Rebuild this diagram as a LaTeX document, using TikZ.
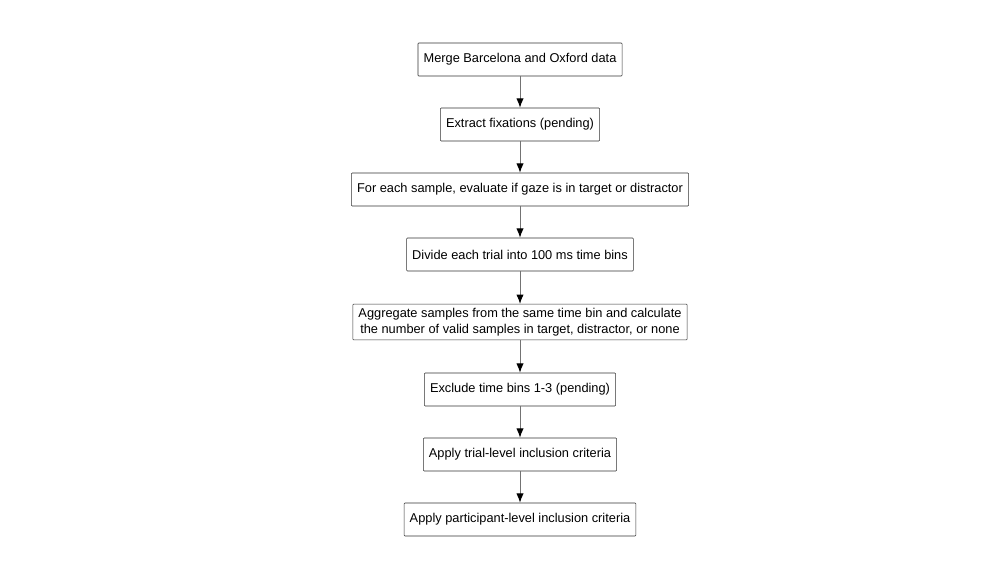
\documentclass[tikz,border=0pt]{standalone}
\usepackage{fontspec}
\setmainfont{Liberation Sans}
\usetikzlibrary{arrows.meta}
\tikzset{step-box/.style={draw=black!80, fill=white, rounded corners=0.6pt, inner xsep=4.2pt, inner ysep=3pt, minimum height=24.75pt, align=center, font=\fontsize{9.6}{11.8}\selectfont}}
\tikzset{arrow/.style={draw=black!55, line width=0.75pt, -{Latex[black, length=7pt, width=5.5pt]}}}

\begin{document}
\begin{tikzpicture}[x=0.75pt, y=-0.75pt]
      \useasboundingbox (0, 0) rectangle (1000, 580);

      \node[step-box] (merge) at (520, 59.5) {Merge Barcelona and Oxford data};
      \node[step-box] (fix) at (520, 124.5) {Extract fixations (pending)};
      \node[step-box] (gaze) at (520, 189.5) {For each sample, evaluate if gaze is in target or distractor};
      \node[step-box] (bins) at (520, 254.5) {Divide each trial into 100 ms time bins};
      \node[step-box] (agg) at (520, 322) {Aggregate samples from the same time bin and calculate\\the number of valid samples in target, distractor, or none};
      \node[step-box] (excl) at (520, 389.5) {Exclude time bins 1-3 (pending)};
      \node[step-box] (trial) at (520, 454.5) {Apply trial-level inclusion criteria};
      \node[step-box] (part) at (520, 519.5) {Apply participant-level inclusion criteria};

      \draw[arrow] (merge) -- (fix);
      \draw[arrow] (fix) -- (gaze);
      \draw[arrow] (gaze) -- (bins);
      \draw[arrow] (bins) -- (agg);
      \draw[arrow] (agg) -- (excl);
      \draw[arrow] (excl) -- (trial);
      \draw[arrow] (trial) -- (part);
    \end{tikzpicture}
\end{document}
